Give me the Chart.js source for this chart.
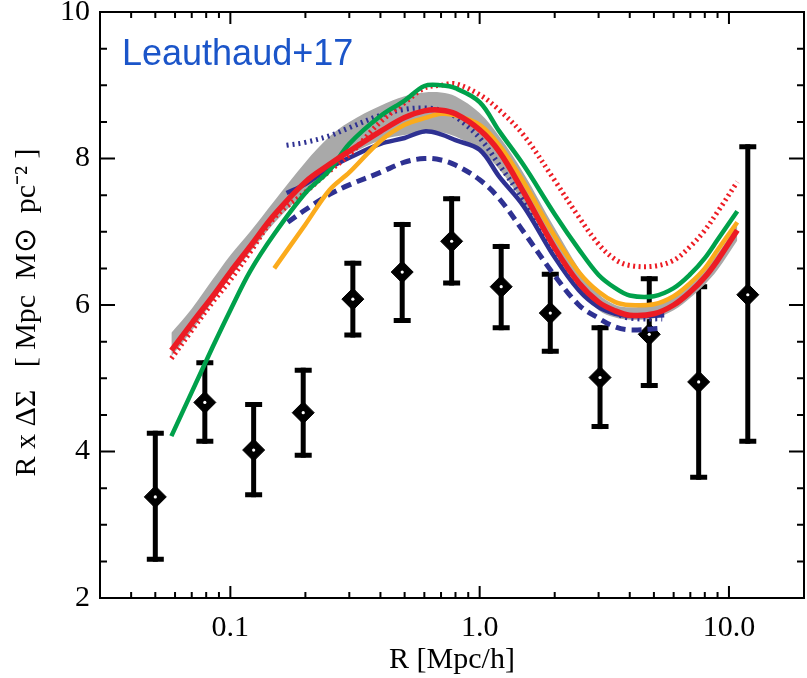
<!DOCTYPE html>
<html><head><meta charset="utf-8">
<script src="https://cdn.jsdelivr.net/npm/chart.js@4/dist/chart.umd.min.js"></script>
<style>html,body{margin:0;padding:0;overflow:hidden;background:#fff;width:807px;height:678px}canvas{display:block}</style>
</head><body>
<canvas id="c" width="816" height="678" style="width:816px;height:678px"></canvas>
<script>
// ---- observed data (diamonds with error bars) ----
const obsR  = [0.050, 0.079, 0.124, 0.196, 0.310, 0.489, 0.772, 1.22, 1.92, 3.04, 4.79, 7.56, 11.9];
const obsY  = [3.38, 4.67, 4.02, 4.53, 6.08, 6.45, 6.87, 6.25, 5.89, 5.01, 5.60, 4.95, 6.14];
const obsHi = [4.25, 5.21, 4.64, 5.11, 6.57, 7.10, 7.45, 6.80, 6.42, 5.69, 6.36, 6.25, 8.16];
const obsLo = [2.53, 4.14, 3.41, 3.95, 5.59, 5.79, 6.30, 5.69, 5.37, 4.34, 4.90, 3.65, 4.14];

// ---- model curves ----
const modelR   = [0.058, 0.07, 0.085, 0.1, 0.12, 0.15, 0.2, 0.25, 0.3, 0.4, 0.5, 0.6, 0.7, 0.8, 1.0, 1.2, 1.5, 2.0, 2.5, 3.0, 3.5, 4.0, 5.0, 6.0, 7.0, 8.0, 9.0, 10.8];
const redSolid = [5.38,5.75,6.12,6.45,6.80,7.23,7.68,7.92,8.10,8.37,8.56,8.65,8.66,8.61,8.39,8.09,7.54,6.78,6.30,6.04,5.92,5.86,5.88,6.00,6.18,6.38,6.61,7.02];
const green    = [4.21,4.81,5.43,5.93,6.46,6.97,7.53,7.84,8.20,8.58,8.79,8.99,9.00,8.96,8.77,8.37,7.91,7.24,6.76,6.41,6.23,6.13,6.12,6.23,6.42,6.64,6.89,7.28];
const redDot   = [5.27,5.65,6.04,6.34,6.72,7.19,7.54,7.83,8.05,8.50,8.76,8.96,9.00,9.02,8.87,8.66,8.32,7.70,7.20,6.83,6.62,6.54,6.53,6.61,6.80,7.02,7.27,7.68];
const grayHi   = [5.62,5.95,6.35,6.68,7.00,7.42,7.95,8.30,8.50,8.72,8.85,8.90,8.90,8.85,8.62,8.30,7.80,7.05,6.50,6.15,6.00,5.97,6.00,6.12,6.30,6.50,6.70,7.10];
const grayLo   = [5.30,5.65,6.05,6.38,6.72,7.12,7.55,7.88,8.05,8.25,8.32,8.36,8.36,8.30,8.12,7.85,7.40,6.75,6.25,5.93,5.83,5.80,5.82,5.93,6.10,6.28,6.48,6.88];

const orangeR  = [0.15, 0.2, 0.25, 0.3, 0.4, 0.5, 0.6, 0.7, 0.8, 1.0, 1.2, 1.5, 2.0, 2.5, 3.0, 3.5, 4.0, 5.0, 6.0, 7.0, 8.0, 9.0, 10.8];
const orange   = [6.50,7.10,7.57,7.81,8.24,8.46,8.55,8.61,8.59,8.46,8.18,7.68,6.94,6.45,6.18,6.04,6.00,6.01,6.12,6.30,6.50,6.75,7.13];

const blueSolidR = [0.168, 0.2, 0.25, 0.3, 0.4, 0.5, 0.6, 0.7, 0.8, 1.0, 1.2, 1.5, 2.0, 2.5, 3.0, 3.5, 4.0, 5.5];
const blueSolid  = [7.53,7.65,7.87,8.01,8.20,8.28,8.37,8.33,8.25,8.12,7.75,7.35,6.65,6.20,5.97,5.88,5.85,5.86];
const blueDashR  = [0.17, 0.2, 0.25, 0.3, 0.4, 0.5, 0.6, 0.7, 0.8, 1.0, 1.2, 1.5, 2.0, 2.5, 3.0, 3.5, 4.0, 5.3];
const blueDash   = [7.13,7.30,7.51,7.64,7.81,7.95,8.00,7.98,7.91,7.71,7.45,7.00,6.40,6.00,5.82,5.70,5.66,5.68];
const blueDotR   = [0.168, 0.2, 0.25, 0.3, 0.4, 0.5, 0.6, 0.7, 0.8, 1.0, 1.2, 1.5, 2.0, 2.5, 3.0, 3.5, 4.0, 5.4];
const blueDot    = [8.18,8.22,8.31,8.42,8.59,8.67,8.69,8.66,8.57,8.28,7.91,7.43,6.72,6.26,6.01,5.89,5.82,5.81];

// ---- axes ----
const xTickValues = [0.1, 1, 10];
const xTickLabels = ['0.1', '1.0', '10.0'];
const yTickValues = [2, 4, 6, 8, 10];
const yTickLabels = ['2', '4', '6', '8', '10'];
const xTitle = 'R [Mpc/h]';
const yTitle = 'R x \u0394\u03A3   [ Mpc  M\u2299  pc\u207B\u00B2 ]  ';
const annotation = 'Leauthaud+17';

const pts = (xs, ys) => xs.map((x, i) => ({x, y: ys[i]}));
const line = (label, xs, ys, color, width, dash, order) => ({
  label, data: pts(xs, ys), showLine: true, borderColor: color, borderWidth: width,
  borderDash: dash || [], pointRadius: 0, tension: 0.35, fill: false, order
});

const NAVY = '#2e3192', RED = '#ed1c24', GREEN = '#00a14b', ORANGE = '#fbab1c', GRAY = '#a9a9a9';

const decorations = {
  id: 'decorations',
  beforeDatasetsDraw(chart) {
    const {ctx, scales: {x, y}} = chart;
    ctx.save();
    ctx.strokeStyle = '#000'; ctx.lineWidth = 5; ctx.lineCap = 'butt';
    obsR.forEach((r, i) => {
      const px = x.getPixelForValue(r), hi = y.getPixelForValue(obsHi[i]), lo = y.getPixelForValue(obsLo[i]);
      ctx.beginPath(); ctx.moveTo(px, hi - 2.5); ctx.lineTo(px, lo + 2.5); ctx.stroke();
      ctx.beginPath();
      ctx.moveTo(px - 8.5, hi); ctx.lineTo(px + 8.5, hi);
      ctx.moveTo(px - 8.5, lo); ctx.lineTo(px + 8.5, lo);
      ctx.stroke();
    });
    ctx.restore();
  },
  afterDraw(chart) {
    const {ctx, chartArea: a, scales: {x, y}} = chart;
    ctx.save();
    ctx.strokeStyle = '#000'; ctx.lineWidth = 2; ctx.lineCap = 'butt';
    ctx.beginPath();
    ctx.moveTo(a.left, a.top); ctx.lineTo(a.right, a.top);
    ctx.moveTo(a.left, a.bottom); ctx.lineTo(a.right, a.bottom);
    ctx.moveTo(a.left, a.top - 1); ctx.lineTo(a.left, a.bottom + 1);
    ctx.moveTo(a.right, a.top - 1); ctx.lineTo(a.right, a.bottom + 1);
    ctx.stroke();
    // x ticks (log)
    ctx.beginPath();
    for (let d = -2; d <= 1; d++) {
      for (let m = 1; m <= 9; m++) {
        const v = m * Math.pow(10, d);
        if (v <= x.min * 1.0001 || v >= x.max * 0.9999) continue;
        const px = x.getPixelForValue(v);
        const len = m === 1 ? 12 : 6;
        ctx.moveTo(px, a.bottom); ctx.lineTo(px, a.bottom - len);
        ctx.moveTo(px, a.top); ctx.lineTo(px, a.top + len);
      }
    }
    // y ticks
    for (let v = y.min + 0.5; v < y.max; v += 0.5) {
      const py = y.getPixelForValue(v);
      const len = (Math.abs(v % 2) < 1e-6) ? 15 : 7;
      ctx.moveTo(a.left, py); ctx.lineTo(a.left + len, py);
      ctx.moveTo(a.right, py); ctx.lineTo(a.right - len, py);
    }
    ctx.stroke();
    // annotation
    ctx.fillStyle = '#1b55c9';
    ctx.font = '36px "Liberation Sans", Arial, sans-serif';
    ctx.textBaseline = 'alphabetic'; ctx.textAlign = 'left';
    ctx.fillText(annotation, 122, 65);
    ctx.restore();
  }
};

const serif = 'Liberation Serif, "Times New Roman", serif';

new Chart(document.getElementById('c'), {
  type: 'scatter',
  data: {
    datasets: [
      {label: 'gray upper', data: pts(modelR, grayHi), showLine: true, borderWidth: 0, borderColor: 'rgba(0,0,0,0)', pointRadius: 0, tension: 0.35, fill: false, order: 20},
      {label: 'gray lower', data: pts(modelR, grayLo), showLine: true, borderWidth: 0, borderColor: 'rgba(0,0,0,0)', backgroundColor: GRAY, pointRadius: 0, tension: 0.35, fill: '-1', order: 19},
      line('blue dashed', blueDashR, blueDash, NAVY, 5, [10, 6], 9),
      line('blue dotted', blueDotR, blueDot, NAVY, 5, [2, 4], 8),
      line('blue solid', blueSolidR, blueSolid, NAVY, 4.5, null, 7),
      line('red dotted', modelR, redDot, RED, 5, [2, 3.5], 6),
      line('orange', orangeR, orange, ORANGE, 4.5, null, 4),
      line('green', modelR, green, GREEN, 4.5, null, 3),
      line('red', modelR, redSolid, RED, 5.5, null, 2),
      {label: 'data', data: pts(obsR, obsY), pointStyle: 'rectRot', pointRadius: 11, pointBackgroundColor: '#000', pointBorderColor: '#000', pointBorderWidth: 1, showLine: false, order: 31},
      {label: 'data centre', data: pts(obsR, obsY), pointStyle: 'circle', pointRadius: 1.6, pointBackgroundColor: '#fff', pointBorderWidth: 0, showLine: false, order: 30}
    ]
  },
  options: {
    responsive: false, animation: false, devicePixelRatio: 1,
    layout: {padding: {top: 12, right: 6, left: 0, bottom: 0}},
    plugins: {legend: {display: false}, tooltip: {enabled: false}},
    scales: {
      x: {
        type: 'logarithmic', min: 0.03, max: 20, position: 'bottom',
        afterBuildTicks: s => { s.ticks = xTickValues.map(v => ({value: v})); },
        afterFit: s => { s.height = 80; s.paddingLeft = 0; s.paddingRight = 0; },
        grid: {display: false, drawTicks: false}, border: {display: false},
        ticks: {callback: (v, i) => xTickLabels[i], font: {family: serif, size: 30}, color: '#000', padding: 12, maxRotation: 0, autoSkip: false},
        title: {display: true, text: xTitle, color: '#000', font: {family: serif, size: 30, lineHeight: 1.2}, padding: {top: 0, bottom: 0}}
      },
      y: {
        min: 2, max: 10,
        afterBuildTicks: s => { s.ticks = yTickValues.map(v => ({value: v})); },
        afterFit: s => { s.width = 100; s.paddingTop = 0; s.paddingBottom = 0; },
        grid: {display: false, drawTicks: false}, border: {display: false},
        ticks: {callback: (v, i) => yTickLabels[i], font: {family: serif, size: 30}, color: '#000', padding: 10, autoSkip: false},
        title: {display: true, text: yTitle, color: '#000', font: {family: serif, size: 30, lineHeight: 1.2}, padding: {top: 9, bottom: 0}}
      }
    }
  },
  plugins: [decorations]
});
</script>
</body></html>
